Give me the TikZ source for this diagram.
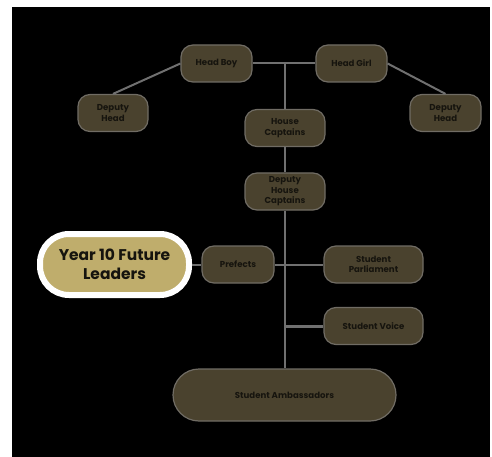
\documentclass[tikz,border=0pt]{standalone}
\usepackage{fontspec}
\setmainfont{Poppins}
\usetikzlibrary{positioning}
\definecolor{roleolive}{RGB}{74,66,46}
\definecolor{rolegrey}{RGB}{112,108,100}
\definecolor{linkgrey}{RGB}{112,112,112}
\definecolor{leadgold}{RGB}{191,173,108}
\definecolor{roletext}{RGB}{22,20,14}

\begin{document}
\begin{tikzpicture}[x=1pt, y=-1pt,
  role/.style={draw=rolegrey, line width=1.2pt, fill=roleolive, rounded corners=12pt,
    minimum width=#1, minimum height=37pt, align=center, inner sep=1pt,
    font=\fontsize{8.6}{10.6}\selectfont\bfseries, text=roletext},
  role/.default=72pt,
  link/.style={draw=linkgrey, line width=2pt}]

  % board
  \fill[white] (0,0) rectangle (492,457);
  \fill[black] (12,7) rectangle (490,457);

  % top row
  \node[role=71pt] (hboy) at (216.5,63.5) {Head Boy};
  \node[role=71pt] (hgirl) at (351.5,63.5) {Head Girl};
  \node[role=70pt] (dhleft) at (113,113) {Deputy\\Head};
  \node[role=71pt] (dhright) at (445.5,113) {Deputy\\Head};

  % trunk
  \node[role=80pt] (hcapt) at (285,128) {House\\Captains};
  \node[role=80pt] (dhcapt) at (285,191.5) {Deputy\\House\\Captains};
  \node[role=72pt] (prefects) at (238,264.5) {Prefects};
  \node[role=99pt] (parliament) at (373.5,264.5) {Student\\Parliament};
  \node[role=99pt] (voice) at (373.5,326) {Student Voice};
  \node[role=223pt, minimum height=52pt, rounded corners=26pt] (ambass) at (284.5,395) {Student Ambassadors};

  % highlight
  \node[draw=white, line width=6pt, fill=leadgold, rounded corners=29pt, minimum width=149pt,
    minimum height=61pt, align=center, inner sep=1pt, text=roletext,
    font=\fontsize{15.5}{19}\selectfont\bfseries] (year10) at (114.5,264.5) {Year 10 Future\\Leaders};

  \path[link] (hboy) -- (hgirl);
  \path[link] (hboy.west) -- (dhleft.north);
  \path[link] (hgirl.east) -- (dhright.north);
  \path[link] (hboy.east -| hcapt.north) -- (hcapt.north);
  \path[link] (hcapt) -- (dhcapt);
  \path[link] (dhcapt.south) -- (ambass.north -| dhcapt.south);
  \path[link] (prefects) -- (parliament);
  \path[link, line width=3pt] (voice.west -| dhcapt.south) -- (voice.west);
  \path[link] (year10) -- (prefects);
\end{tikzpicture}
\end{document}
